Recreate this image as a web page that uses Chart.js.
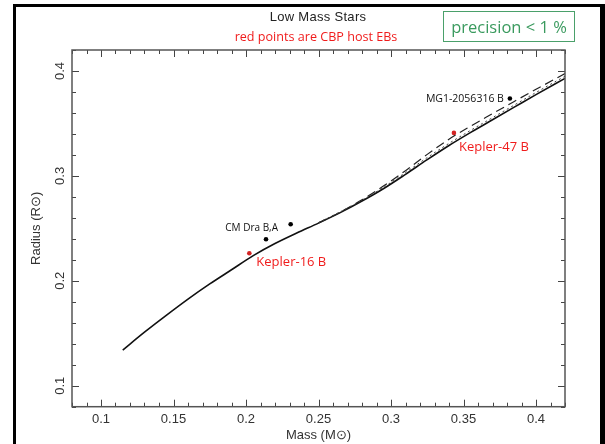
<!DOCTYPE html>
<html>
<head>
<meta charset="utf-8">
<script src="https://cdn.jsdelivr.net/npm/chart.js@4.4.1/dist/chart.umd.min.js"></script>
<style>
  body { margin: 0; background: #fff; }
  #wrap { position: relative; width: 605px; height: 444px; overflow: hidden; }
  #frame { position: absolute; left: 13px; top: 4px; width: 584px; height: 500px;
           border-left: 3px solid #000; border-top: 3px solid #000; border-right: 5px solid #000; }
  #c { position: absolute; left: 0; top: 0; }
  .txt { position: absolute; white-space: nowrap; transform: translate(-50%, -50%); }
  #title { left: 318px; top: 16px; font: 13px "Liberation Sans", sans-serif; color: #222; letter-spacing: 0.3px; }
  #sub { left: 316px; top: 36px; font: 12.6px "Open Sans", sans-serif; color: #f01c1c; }
  #prec { position: absolute; left: 443px; top: 11px; width: 130px; height: 29px;
          border: 1px solid #4aa06a; font: 16.5px "Open Sans", sans-serif; color: #3a9a5e;
          display: flex; align-items: center; justify-content: center; }
</style>
</head>
<body>
<div id="wrap">
  <div id="frame"></div>
  <canvas id="c" width="605" height="444"></canvas>
  <div id="title" class="txt">Low Mass Stars</div>
  <div id="sub" class="txt">red points are CBP host EBs</div>
  <div id="prec">precision &lt; 1 %</div>
</div>
<script>
// ===== DATA =====
// model isochrone, solid line
const modelMass = [0.115, 0.13, 0.145, 0.16, 0.175, 0.19, 0.205, 0.22, 0.235, 0.25, 0.265,
  0.28, 0.295, 0.31, 0.325, 0.34, 0.355, 0.37, 0.385, 0.40, 0.42];
const modelRadius = [0.134, 0.151, 0.167, 0.1825, 0.197, 0.2105, 0.224, 0.2355, 0.2455, 0.255, 0.265,
  0.276, 0.288, 0.3015, 0.3155, 0.329, 0.3415, 0.3535, 0.3655, 0.3775, 0.393];

// other models, only visible above ~0.25 Msun
const altMass = [0.25, 0.265, 0.28, 0.295, 0.31, 0.325, 0.34, 0.355, 0.37, 0.385, 0.40, 0.42];
const dashedRadius = [0.2552, 0.2655, 0.2772, 0.2905, 0.305, 0.3205, 0.335, 0.3475, 0.3593, 0.371, 0.3825, 0.3975];
const dottedRadius = [0.2555, 0.2658, 0.2768, 0.2893, 0.3032, 0.3175, 0.331, 0.3435, 0.3555, 0.3675, 0.3795, 0.395];

// eclipsing binaries
const ebNames = ["Kepler-16 B", "CM Dra B", "CM Dra A", "Kepler-47 B", "MG1-2056316 B"];
const ebMass = [0.2023, 0.2138, 0.2308, 0.3434, 0.3820];
const ebRadius = [0.2262, 0.2396, 0.2539, 0.3410, 0.3737];
const ebCbpHost = [true, false, false, true, false];

// axes
const xTickLabels = [0.1, 0.15, 0.2, 0.25, 0.3, 0.35, 0.4];
const yTickLabels = [0.1, 0.2, 0.3, 0.4];
const xMinorStep = 0.01, xMajorStep = 0.05;
const yMinorStep = 0.02, yMajorStep = 0.1;

const toXY = (xs, ys) => xs.map((x, i) => ({ x: x, y: ys[i] }));

// ===== PLUGINS =====
const frameTicks = {
  id: "frameTicks",
  afterDatasetsDraw(chart) {
    const { ctx, chartArea: a, scales: { x, y } } = chart;
    ctx.save();
    ctx.strokeStyle = "#444";
    ctx.lineWidth = 1;
    ctx.beginPath();
    for (let v = 0.08; v <= 0.4201; v += xMinorStep) {
      const px = Math.round(x.getPixelForValue(v)) + 0.5;
      const major = Math.abs(v / xMajorStep - Math.round(v / xMajorStep)) < 1e-6;
      const len = major ? 7 : 4;
      ctx.moveTo(px, a.bottom); ctx.lineTo(px, a.bottom - len);
      ctx.moveTo(px, a.top); ctx.lineTo(px, a.top + len);
    }
    for (let v = 0.08; v <= 0.4201; v += yMinorStep) {
      const py = Math.round(y.getPixelForValue(v)) + 0.5;
      const major = Math.abs(v / yMajorStep - Math.round(v / yMajorStep)) < 1e-6;
      const len = major ? 7 : 4;
      ctx.moveTo(a.left, py); ctx.lineTo(a.left + len, py);
      ctx.moveTo(a.right, py); ctx.lineTo(a.right - len, py);
    }
    ctx.stroke();
    ctx.lineWidth = 1.5;
    ctx.strokeStyle = "#555";
    ctx.strokeRect(a.left, a.top, a.right - a.left, a.bottom - a.top);
    ctx.restore();
  }
};

// labels next to the binaries: [point index, dx, dy, align, font, colour, text]
const pointLabels = {
  id: "pointLabels",
  afterDatasetsDraw(chart) {
    const { ctx, scales: { x, y } } = chart;
    const items = [
      [0, 7, 9, "left", "13px 'Open Sans'", "#f01c1c", "Kepler-16 B"],
      [1, 12, -11.5, "right", "10px 'Open Sans'", "#111", "CM Dra B,A"],
      [3, 5, 14.5, "left", "13px 'Open Sans'", "#f01c1c", "Kepler-47 B"],
      [4, -6, 0.5, "right", "10.5px 'Open Sans'", "#111", ebNames[4]]
    ];
    ctx.save();
    ctx.textBaseline = "middle";
    items.forEach(([i, dx, dy, align, font, color, text]) => {
      ctx.font = font;
      ctx.fillStyle = color;
      ctx.textAlign = align;
      ctx.fillText(text, x.getPixelForValue(ebMass[i]) + dx, y.getPixelForValue(ebRadius[i]) + dy);
    });
    ctx.restore();
  }
};

// ===== CHART =====
const axisFont = { family: "'Liberation Sans', sans-serif", size: 13 };

new Chart(document.getElementById("c"), {
  type: "scatter",
  data: {
    datasets: [
      { data: toXY(altMass, dottedRadius), showLine: true, borderColor: "#444", borderWidth: 1,
        borderDash: [2, 3], pointRadius: 0, cubicInterpolationMode: "monotone" },
      { data: toXY(altMass, dashedRadius), showLine: true, borderColor: "#222", borderWidth: 1.2,
        borderDash: [9, 5], pointRadius: 0, cubicInterpolationMode: "monotone" },
      { data: toXY(modelMass, modelRadius), showLine: true, borderColor: "#111", borderWidth: 1.6,
        pointRadius: 0, cubicInterpolationMode: "monotone" },
      { data: toXY(ebMass, ebRadius), showLine: false, pointRadius: 2.3, borderWidth: 0,
        pointBackgroundColor: ebCbpHost.map(h => h ? "#d42424" : "#000") }
    ]
  },
  options: {
    responsive: false,
    animation: false,
    devicePixelRatio: 1,
    layout: { padding: { left: 16, top: 50, right: 40, bottom: 0 } },
    plugins: { legend: { display: false }, tooltip: { enabled: false } },
    scales: {
      x: {
        type: "linear", min: 0.08, max: 0.42,
        grid: { display: false, drawTicks: false },
        border: { display: false },
        afterBuildTicks: s => { s.ticks = xTickLabels.map(v => ({ value: v })); },
        afterFit: s => { s.height = 37.3; },
        ticks: { font: axisFont, color: "#333", padding: 5, maxRotation: 0, callback: v => String(v) },
        title: { display: true, text: "Mass (M⊙)", font: axisFont, color: "#333", padding: { top: 0, bottom: 1 } }
      },
      y: {
        type: "linear", min: 0.08, max: 0.42,
        grid: { display: false, drawTicks: false },
        border: { display: false },
        afterBuildTicks: s => { s.ticks = yTickLabels.map(v => ({ value: v })); },
        afterFit: s => { s.width = 56; },
        ticks: { font: axisFont, color: "#333", padding: 3, minRotation: 90, maxRotation: 90,
                 crossAlign: "center", callback: v => String(v) },
        title: { display: true, text: "Radius (R⊙)", font: axisFont, color: "#333", padding: { top: 13, bottom: 0 } }
      }
    }
  },
  plugins: [frameTicks, pointLabels]
});
</script>
</body>
</html>
